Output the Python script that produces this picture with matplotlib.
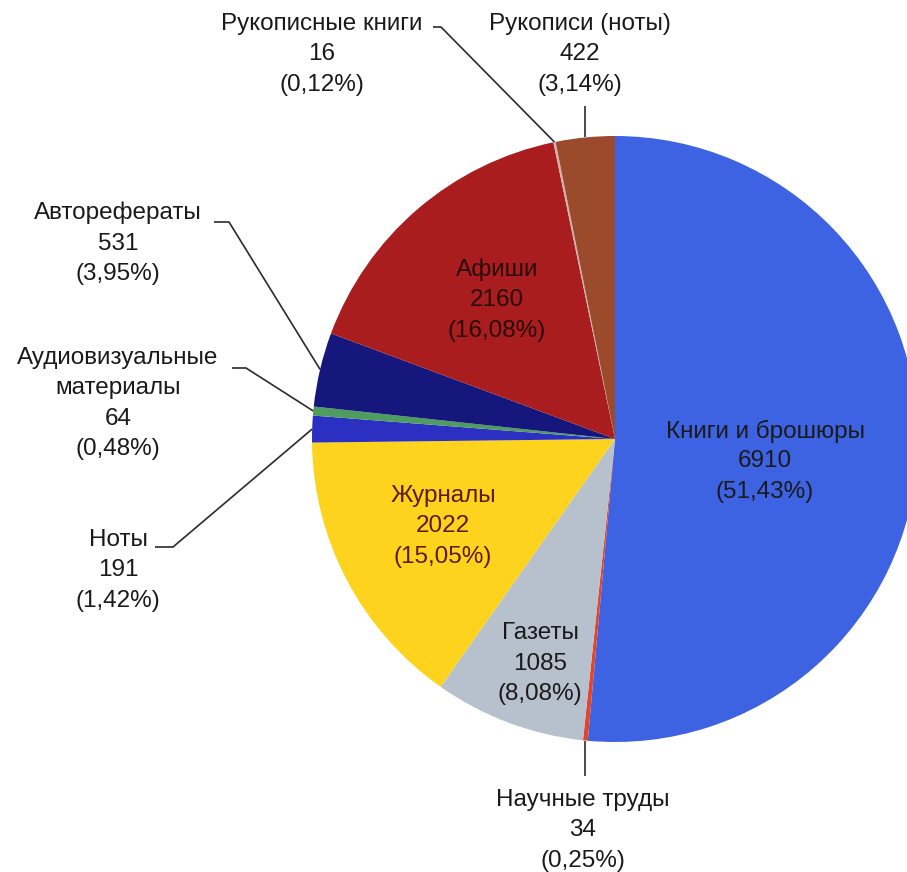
import numpy as np
import matplotlib.pyplot as plt

plt.rcParams['font.family'] = ['Liberation Sans', 'DejaVu Sans']

# data
categories = ['Книги и брошюры', 'Научные труды', 'Газеты', 'Журналы', 'Ноты',
              'Аудиовизуальные\nматериалы', 'Авторефераты', 'Афиши',
              'Рукописные книги', 'Рукописи (ноты)']
values = [6910, 34, 1085, 2022, 191, 64, 531, 2160, 16, 422]
percents = ['51,43%', '0,25%', '8,08%', '15,05%', '1,42%', '0,48%', '3,95%',
            '16,08%', '0,12%', '3,14%']
colors = ['#3d63e2', '#e2452c', '#b6c1cd', '#fdd31d', '#2c30c2', '#4e9c5e',
          '#16177c', '#a91d1e', '#cfb0ae', '#9b4a2b']

W, H = 907, 872
CX, CY, R = 615, 439, 303  # pie centre / radius in pixels (from top)

fig = plt.figure(figsize=(W / 100, H / 100), dpi=100)
ax = fig.add_axes([0, 0, 1, 1])

wedges, _ = ax.pie(values, colors=colors, startangle=90, counterclock=False,
                   center=(CX, H - CY), radius=R, frame=True,
                   wedgeprops=dict(linewidth=0))
ax.set_xlim(0, W)
ax.set_ylim(0, H)
ax.set_aspect('equal')
ax.axis('off')


def edge_point(w):
    ang = np.deg2rad((w.theta1 + w.theta2) / 2)
    return CX + R * np.cos(ang), (H - CY) + R * np.sin(ang)


def put_lines(lines, x, y_top, color='#1a1a1a', step=30.5):
    for i, s in enumerate(lines):
        ax.text(x, H - (y_top + i * step), s, ha='center', va='center',
                fontsize=17.5, color=color)


def block(i):
    return categories[i].split('\n') + [str(values[i]), '(' + percents[i] + ')']


# labels inside slices
put_lines(block(0), 765, 431)
put_lines(block(2), 540, 633)
put_lines(block(3), 443, 496, color='#5e1a0c')
put_lines(block(7), 497, 270, color='#2a0a0a')

# labels outside with leader lines
line_kw = dict(color='#2b2b2b', lw=1.2, solid_capstyle='butt')

put_lines(block(8), 322, 24)
ex, ey = edge_point(wedges[8])
ax.plot([433, 441, ex], [H - 27, H - 27, ey], **line_kw)

put_lines(block(9), 580, 24)
ex, ey = edge_point(wedges[9])
ax.plot([ex, ex], [H - 106, ey], **line_kw)

put_lines(block(6), 118, 213)
ex, ey = edge_point(wedges[6])
ax.plot([214, 229, ex], [H - 222, H - 222, ey], **line_kw)

put_lines(block(5), 118, 358)
ex, ey = edge_point(wedges[5])
ax.plot([232, 246, ex], [H - 368, H - 368, ey], **line_kw)

put_lines(block(4), 118, 540)
ex, ey = edge_point(wedges[4])
ax.plot([155, 173, ex], [H - 547, H - 547, ey], **line_kw)

put_lines(block(1), 583, 800)
ex, ey = edge_point(wedges[1])
ax.plot([ex, ex], [ey, H - 776], **line_kw)

fig.savefig('out.png', dpi=100)
